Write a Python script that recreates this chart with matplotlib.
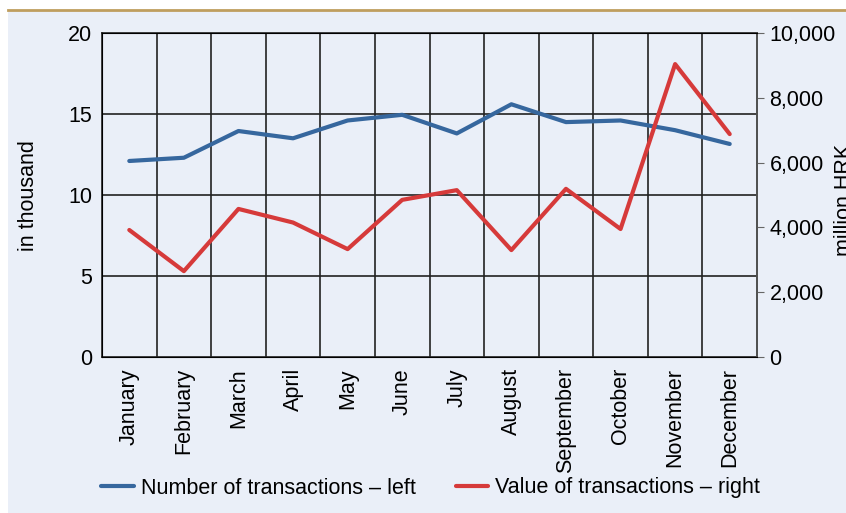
import matplotlib.pyplot as plt

months = ['January', 'February', 'March', 'April', 'May', 'June', 'July',
          'August', 'September', 'October', 'November', 'December']
# number of transactions, thousand (left axis)
num_transactions = [12.1, 12.3, 13.95, 13.5, 14.6, 14.95, 13.8, 15.6, 14.5, 14.6, 14.0, 13.15]
# value of transactions, million HRK (right axis)
value_transactions = [3920, 2650, 4570, 4150, 3330, 4850, 5150, 3300, 5190, 3950, 9040, 6880]

bg = '#EAEFF8'
blue = '#36679E'
red = '#D63A3A'
fs = 15.5

plt.rcParams['font.family'] = ['Liberation Sans', 'DejaVu Sans']

fig = plt.figure(figsize=(8.46, 5.13), dpi=100)
fig.patch.set_facecolor('white')
# background panel under the gold line
fig.patches.append(plt.Rectangle((8 / 846, 0), 1, 0.98, transform=fig.transFigure,
                                 facecolor=bg, edgecolor='none', zorder=-10))
fig.add_artist(plt.Line2D([8 / 846, 1], [0.98, 0.98], color='#BF9E5E', lw=2))

ax = fig.add_axes([102 / 846, 1 - 357 / 513, 655 / 846, 324 / 513])
ax.set_facecolor(bg)
x = list(range(len(months)))

ax.plot(x, num_transactions, color=blue, lw=3, solid_capstyle='round',
        label='Number of transactions – left', zorder=3)
ax.set_xlim(-0.5, 11.5)
ax.set_ylim(0, 20)
ax.set_yticks([0, 5, 10, 15, 20])
ax.set_xticks(x)
ax.set_xticklabels(months, rotation=90, fontsize=fs)
ax.tick_params(axis='x', length=0, pad=8)
ax.tick_params(axis='y', length=0, labelsize=fs, pad=7)
for b in range(1, 12):
    ax.axvline(b - 0.5, color='#222222', lw=1.2, zorder=1)
for v in [5, 10, 15]:
    ax.axhline(v, color='#222222', lw=1.2, zorder=1)
for s in ax.spines.values():
    s.set_color('#222222')
    s.set_linewidth(1.2)
fig.text(28 / 846, 1 - 196 / 513, 'in thousand', rotation=90, fontsize=fs,
         ha='center', va='center')

ax2 = ax.twinx()
ax2.plot(x, value_transactions, color=red, lw=3, solid_capstyle='round',
         label='Value of transactions – right', zorder=3)
ax2.set_ylim(0, 10000)
ax2.set_yticks(range(0, 10001, 2000))
ax2.set_yticklabels([f'{v:,}' for v in range(0, 10001, 2000)])
ax2.tick_params(axis='y', length=5, color='#666666', labelsize=fs, pad=4)
ax2.spines['right'].set_color('#555555')
ax2.spines['right'].set_linewidth(1.2)
# the reference cuts this label at the right edge
fig.text(844 / 846, 1 - 200 / 513, 'million HRK', rotation=90, fontsize=fs,
         ha='center', va='center')

h1, l1 = ax.get_legend_handles_labels()
h2, l2 = ax2.get_legend_handles_labels()
fig.legend(h1 + h2, l1 + l2, loc='center', bbox_to_anchor=(0.509, 1 - 488 / 513),
           ncol=2, frameon=False, fontsize=fs, handlelength=1.5,
           handletextpad=0.33, columnspacing=1.85)

fig.savefig('out.png', dpi=100, facecolor=fig.get_facecolor())
